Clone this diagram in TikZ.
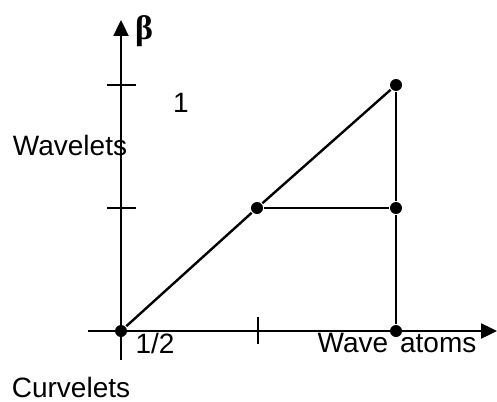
\documentclass[tikz,border=0pt]{standalone}
\usepackage{fontspec}
\setmainfont{Liberation Sans}
\newfontfamily\betafont{Liberation Serif}
\usetikzlibrary{arrows.meta}

\begin{document}
\begin{tikzpicture}[
  x=0.5pt, y=-0.5pt,
  line width=1.2pt,
  dot/.style={circle, fill, inner sep=0pt, minimum size=6pt},
  lbl/.style={inner sep=0pt, font=\fontsize{14}{16}\selectfont},
  axis/.style={-{Triangle[length=8pt, width=7.5pt]}}
]
\useasboundingbox (0,0) rectangle (497,401);

% axes
\coordinate (xstart) at (88,331);
\coordinate (xend) at (497,331);
\coordinate (ystart) at (121,360);
\coordinate (yend) at (121,20);
\draw[axis] (xstart) -- (xend);
\draw[axis] (ystart) -- (yend);

% ticks
\coordinate (ytickA) at (121,85);
\coordinate (ytickB) at (121,208);
\coordinate (xtick) at (258,331);
\draw (ytickA) ++(-14,0) -- ++(29,0);
\draw (ytickB) ++(-14,0) -- ++(29,0);
\draw (xtick) ++(0,-14) -- ++(0,27);

% points
\node[dot] (origin) at (121,331) {};
\node[dot] (mid) at (257,208) {};
\node[dot] (top) at (396,85) {};
\node[dot] (right) at (396,208) {};
\node[dot] (base) at (396,331) {};

\draw (origin) -- (mid) -- (top);
\draw (mid) -- (right);
\draw (top) -- (right) -- (base);

% labels
\node[lbl, font=\betafont\bfseries\fontsize{17}{18}\selectfont] (beta) at (144,31) {β};
\node[lbl] (one) at (181,103) {1};
\node[lbl] (half) at (155,343) {1/2};
\node[lbl] (wavelets) at (70,145) {Wavelets};
\node[lbl] (curvelets) at (71,387) {Curvelets};
\node[lbl] (waveatoms) at (397,343) {Wave\hspace{6pt}atoms};
\end{tikzpicture}
\end{document}
